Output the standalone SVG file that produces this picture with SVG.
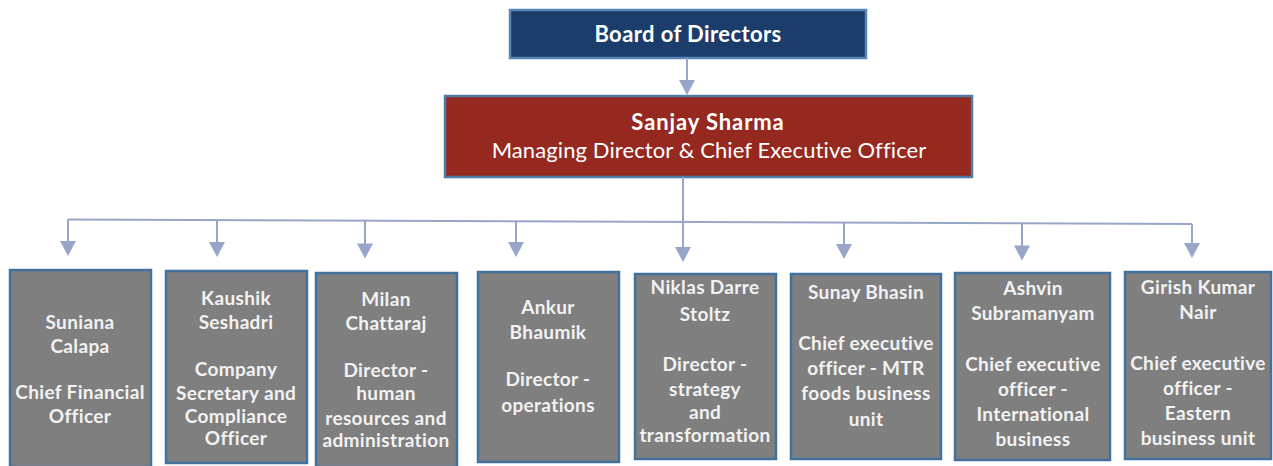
<svg xmlns="http://www.w3.org/2000/svg" width="1273" height="466" viewBox="0 0 1273 466">
  <style>
    .t { font-family: Lato, "Open Sans", "Liberation Sans", sans-serif; fill: #f2f2f2; text-anchor: middle; }
    .b { font-weight: 700; font-size: 19px; letter-spacing: 0.35px; }
    .top { font-weight: 700; font-size: 22px; fill: #ffffff; letter-spacing: 0.4px; }
    .name { letter-spacing: 0.9px; }
    .sub { font-weight: 400; font-size: 22px; fill: #ffffff; letter-spacing: 0.1px; }
    .box { fill: #7f7f7f; stroke: #41719c; stroke-width: 2.5; }
    .conn { stroke: #97a6c8; stroke-width: 2; fill: none; }
  </style>
  <defs>
    <polygon id="head" points="-8,0 8,0 0,15" fill="#97a6c8"/>
  </defs>

  <!-- top of the hierarchy -->
  <g id="board">
    <rect x="510" y="10" width="356" height="48" fill="#1c3d6b" stroke="#5a86b5" stroke-width="2.5"/>
    <text class="t top" x="688" y="42">Board of Directors</text>
  </g>
  <g id="md-ceo">
    <rect x="445" y="96" width="527" height="81" fill="#952920" stroke="#4f7aa8" stroke-width="2.5"/>
    <text class="t top name" x="708" y="130">Sanjay Sharma</text>
    <text class="t sub" x="709" y="158">Managing Director &amp; Chief Executive Officer</text>
  </g>

  <!-- reporting lines -->
  <g id="connectors">
    <line class="conn" x1="687" y1="58" x2="687" y2="82"/>
    <use href="#head" x="687" y="80"/>
    <line class="conn" x1="683" y1="177" x2="683" y2="249"/>
    <line class="conn" x1="68" y1="219.5" x2="1192" y2="224"/>
    <line class="conn" x1="68" y1="219.5" x2="68" y2="243"/>
    <use href="#head" x="68" y="241"/>
    <line class="conn" x1="217" y1="220" x2="217" y2="244"/>
    <use href="#head" x="217" y="242"/>
    <line class="conn" x1="365" y1="220.5" x2="365" y2="245"/>
    <use href="#head" x="365" y="243.5"/>
    <use href="#head" x="683" y="247"/>
    <line class="conn" x1="516" y1="221" x2="516" y2="244"/>
    <use href="#head" x="516" y="242"/>
    <line class="conn" x1="844" y1="222.5" x2="844" y2="246"/>
    <use href="#head" x="844" y="244"/>
    <line class="conn" x1="1022" y1="223" x2="1022" y2="247"/>
    <use href="#head" x="1022" y="245.5"/>
    <line class="conn" x1="1192" y1="224" x2="1192" y2="245"/>
    <use href="#head" x="1192" y="243"/>
  </g>

  <!-- direct reports -->
  <g id="cfo">
    <rect class="box" x="10" y="270" width="141" height="197"/>
    <text class="t b" x="80" y="329">Suniana</text>
    <text class="t b" x="80" y="353">Calapa</text>
    <text class="t b" x="80" y="399">Chief Financial</text>
    <text class="t b" x="80" y="423">Officer</text>
  </g>
  <g id="company-secretary">
    <rect class="box" x="166" y="271" width="141" height="192"/>
    <text class="t b" x="236" y="305">Kaushik</text>
    <text class="t b" x="236" y="329">Seshadri</text>
    <text class="t b" x="236" y="376">Company</text>
    <text class="t b" x="236" y="400">Secretary and</text>
    <text class="t b" x="236" y="423">Compliance</text>
    <text class="t b" x="236" y="445">Officer</text>
  </g>
  <g id="hr">
    <rect class="box" x="316" y="273" width="141" height="194"/>
    <text class="t b" x="386" y="306">Milan</text>
    <text class="t b" x="386" y="330">Chattaraj</text>
    <text class="t b" x="386" y="377">Director -</text>
    <text class="t b" x="386" y="400">human</text>
    <text class="t b" x="386" y="425">resources and</text>
    <text class="t b" x="386" y="447">administration</text>
  </g>
  <g id="operations">
    <rect class="box" x="478" y="272" width="141" height="190"/>
    <text class="t b" x="548" y="314">Ankur</text>
    <text class="t b" x="548" y="339">Bhaumik</text>
    <text class="t b" x="548" y="386">Director -</text>
    <text class="t b" x="548" y="412">operations</text>
  </g>
  <g id="strategy">
    <rect class="box" x="635" y="274" width="141" height="185"/>
    <text class="t b" x="705" y="294">Niklas Darre</text>
    <text class="t b" x="705" y="321">Stoltz</text>
    <text class="t b" x="705" y="371">Director -</text>
    <text class="t b" x="705" y="396">strategy</text>
    <text class="t b" x="705" y="419">and</text>
    <text class="t b" x="705" y="442">transformation</text>
  </g>
  <g id="mtr-foods">
    <rect class="box" x="791" y="274" width="150" height="185"/>
    <text class="t b" x="866" y="299">Sunay Bhasin</text>
    <text class="t b" x="866" y="350">Chief executive</text>
    <text class="t b" x="866" y="375">officer - MTR</text>
    <text class="t b" x="866" y="400">foods business</text>
    <text class="t b" x="866" y="426">unit</text>
  </g>
  <g id="international">
    <rect class="box" x="955" y="273" width="155" height="187"/>
    <text class="t b" x="1033" y="295">Ashvin</text>
    <text class="t b" x="1033" y="320">Subramanyam</text>
    <text class="t b" x="1033" y="371">Chief executive</text>
    <text class="t b" x="1033" y="396">officer -</text>
    <text class="t b" x="1033" y="421">International</text>
    <text class="t b" x="1033" y="446">business</text>
  </g>
  <g id="eastern">
    <rect class="box" x="1125" y="272" width="146" height="187"/>
    <text class="t b" x="1198" y="294">Girish Kumar</text>
    <text class="t b" x="1198" y="319">Nair</text>
    <text class="t b" x="1198" y="370">Chief executive</text>
    <text class="t b" x="1198" y="395">officer -</text>
    <text class="t b" x="1198" y="420">Eastern</text>
    <text class="t b" x="1198" y="445">business unit</text>
  </g>
</svg>
